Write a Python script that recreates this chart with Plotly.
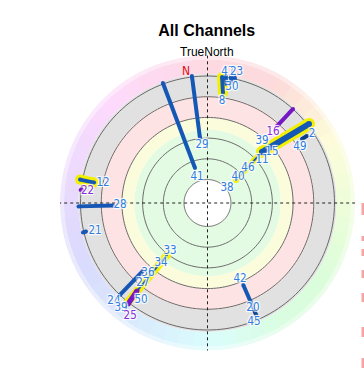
import colorsys
import plotly.graph_objects as go

# ---------------- data ----------------
# current satellite positions (label is drawn there)
sat_labels = ["41", "29", "8", "47", "23", "30", "16", "2", "49", "39", "15", "11", "46", "40", "38",
              "12", "22", "28", "21", "33", "34", "36", "27", "50", "24", "39", "25", "42", "20", "45"]
sat_state = ["normal", "normal", "selected", "normal", "normal", "normal", "warn", "normal", "normal",
             "normal", "normal", "normal", "normal", "normal", "normal",
             "normal", "warn", "normal", "normal", "normal", "normal", "normal", "normal", "normal",
             "normal", "normal", "warn", "normal", "normal", "normal"]
pos_az = [338.0, 354.6, 8.1, 8.9, 12.5, 11.9, 42.7, 56.6, 58.8, 41.3, 51.7, 51.7, 49.2, 49.6, 52.4,
          280.8, 275.7, 268.7, 256.0, 218.0, 217.8, 220.4, 218.9, 214.4, 223.7, 219.5, 214.4, 156.8, 156.6, 158.7]
pos_el = [86.7, 64.8, 32.4, 11.3, 9.8, 21.1, 37.0, 16.3, 28.7, 47.2, 47.5, 56.7, 68.3, 78.0, 89.2,
          29.9, 19.6, 43.6, 23.0, 62.9, 52.0, 40.4, 32.5, 21.8, 8.9, 8.5, 7.8, 47.1, 24.1, 14.1]

# recorded tracks: owning satellite, kind, start (az, el) -> end (az, el)
trk_sat = ["41", "29", "8", "47", "30", "23", "16", "2", "49", "40", "12", "22", "28", "21",
           "36", "33", "25", "42", "45"]
trk_kind = ["normal", "normal", "selected", "normal", "normal", "normal", "warn", "selected", "dark",
            "selected", "selected", "warn", "normal", "normal", "normal", "selected", "warn", "normal", "dark"]
trk_az0 = [339.6, 353.0, 6.6, 8.1, 10.5, 11.7, 42.3, 52.1, 56.0, 46.9, 280.4, 275.9, 268.5, 256.7,
           223.6, 218.8, 218.7, 156.4, 156.5]
trk_el0 = [14.3, 14.3, 15.1, 14.1, 13.4, 12.3, 14.9, 13.8, 20.1, 53.0, 13.1, 14.6, 13.5, 14.3,
           15.0, 15.0, 25.3, 42.2, 22.5]
trk_az1 = [340.3, 353.4, 8.0, 9.1, 11.1, 12.5, 42.1, 46.9, 55.9, 51.0, 280.2, 276.2, 268.5, 256.8,
           223.5, 217.9, 218.2, 156.4, 156.5]
trk_el1 = [80.1, 59.6, 26.5, 19.7, 18.4, 15.0, 31.9, 53.0, 24.3, 80.5, 23.5, 15.4, 38.6, 16.6,
           39.6, 59.3, 13.9, 24.8, 17.0]

north_marker = {"label": "N", "az": 350.7, "el": 10.8}
ring_elevations = [75, 60, 45, 30, 15]
zone_edges = [0, 13.5, 29.5, 45.0, 54.0, 90.0]

# ---------------- styling ----------------
BLUE = "#1557b5"
DARK = "#0d3f8c"
LBLUE = "#2f7de0"
PURPLE = "#7417c4"
LPURPLE = "#8a2bd8"
YELLOW = "#f2f000"
HALO = "1px 1px 1px white, -1px -1px 1px white, 1px -1px 1px white, -1px 1px 1px white"
LABEL_FONT = "DejaVu Sans Condensed, DejaVu Sans"
line_w = {"2": 6, "40": 2, "25": 5, "33": 2}
hl_w = {"2": 12, "40": 6, "33": 8}

fig = go.Figure()

# hue band (outer) as coloured segments
hue_stops = [(0, 345), (30, 360), (60, 415), (90, 445), (120, 475), (150, 495), (180, 540),
             (210, 570), (240, 595), (270, 620), (300, 645), (330, 675), (360, 705)]


def hue_at(a):
    for (a0, h0), (a1, h1) in zip(hue_stops[:-1], hue_stops[1:]):
        if a0 <= a <= a1:
            return (h0 + (h1 - h0) * (a - a0) / (a1 - a0)) % 360
    return 345


seg = 6
thetas = [t + seg / 2 for t in range(0, 360, seg)]
for (b0, b1, light) in [(zone_edges[0], 3.0, 0.955), (3.0, zone_edges[1], 0.925)]:
    cols = []
    for t in thetas:
        r, g, b = colorsys.hls_to_rgb(hue_at(t) / 360.0, light, 0.9)
        cols.append(f"rgb({int(r*255)},{int(g*255)},{int(b*255)})")
    fig.add_trace(go.Barpolar(theta=thetas, r=[b1 - b0] * len(thetas), base=[b0] * len(thetas),
                              width=[seg + 0.3] * len(thetas), marker=dict(color=cols, line=dict(width=0)),
                              hoverinfo="skip", showlegend=False))
zone_cols = ["#e1e1e1", "#fde3e3", "#fbfcdc", "#e2fbe2"]
for i, c in enumerate(zone_cols):
    fig.add_trace(go.Barpolar(theta=[180], r=[zone_edges[i + 2] - zone_edges[i + 1]], base=[zone_edges[i + 1]],
                              width=[360], marker=dict(color=c, line=dict(width=0)),
                              hoverinfo="skip", showlegend=False))

# rings
ring_theta = [i * 2 for i in range(181)]
for e in ring_elevations:
    fig.add_trace(go.Scatterpolar(theta=ring_theta, r=[e] * len(ring_theta), mode="lines",
                                  line=dict(color="#6a6a6a", width=1), hoverinfo="skip", showlegend=False))
fig.add_trace(go.Scatterpolar(theta=ring_theta, r=[90] * len(ring_theta), mode="lines", fill="toself",
                              fillcolor="white", line=dict(color="#6a6a6a", width=1), hoverinfo="skip",
                              showlegend=False))
# cross (dotted)
for a in (0, 90):
    fig.add_trace(go.Scatterpolar(theta=[a, a, a + 180], r=[0, 107, 0], mode="lines",
                                  line=dict(color="#222", width=1, dash="dot"), hoverinfo="skip",
                                  showlegend=False))

# highlight under-strokes
for i, k in enumerate(trk_kind):
    if k == "selected":
        w = hl_w.get(trk_sat[i], 10)
        fig.add_trace(go.Scatterpolar(theta=[trk_az0[i], trk_az1[i]], r=[trk_el0[i], trk_el1[i]],
                                      mode="lines+markers", line=dict(color=YELLOW, width=w),
                                      marker=dict(color=YELLOW, size=w), hoverinfo="skip", showlegend=False))
# tracks
for i, k in enumerate(trk_kind):
    col = PURPLE if k == "warn" else (DARK if k == "dark" else BLUE)
    w = line_w.get(trk_sat[i], 4)
    fig.add_trace(go.Scatterpolar(theta=[trk_az0[i], trk_az1[i]], r=[trk_el0[i], trk_el1[i]],
                                  mode="lines+markers", line=dict(color=col, width=w),
                                  marker=dict(color=col, size=w), hoverinfo="skip", showlegend=False))
# labels at current positions
for i, s in enumerate(sat_state):
    col = LPURPLE if s == "warn" else LBLUE
    fig.add_trace(go.Scatterpolar(theta=[pos_az[i]], r=[pos_el[i]], mode="text", text=[sat_labels[i]],
                                  textposition="middle center",
                                  textfont=dict(family=LABEL_FONT, size=11.5, color=col, shadow=HALO),
                                  hoverinfo="skip", showlegend=False))
fig.add_trace(go.Scatterpolar(theta=[north_marker["az"]], r=[north_marker["el"]], mode="text",
                              text=[north_marker["label"]],
                              textfont=dict(family=LABEL_FONT, size=12, color="#e01010"),
                              hoverinfo="skip", showlegend=False))

# clipped red items at the right edge
edge_marks = [(203, 215), (236, 241), (249, 256), (270, 278), (293, 302), (327, 337), (358, 368)]
shapes = [dict(type="rect", xref="paper", yref="paper", x0=361.5 / 364, x1=1.0,
               y0=1 - b / 370, y1=1 - t / 370, fillcolor="rgba(240,90,90,0.55)", line=dict(width=0))
          for t, b in edge_marks]

fig.update_layout(
    width=364, height=370, margin=dict(l=0, r=0, t=0, b=0),
    paper_bgcolor="white", plot_bgcolor="white",
    title=dict(text="<b>All Channels</b>", x=0.568, xanchor="center", y=0.918, yanchor="middle",
               font=dict(family="Liberation Sans", size=16, color="black")),
    polar=dict(
        domain=dict(x=[0.1643, 0.9758], y=[0.0522, 0.8505]),
        bgcolor="rgba(0,0,0,0)",
        hole=0,
        radialaxis=dict(range=[107, 0], visible=False, showgrid=False),
        angularaxis=dict(rotation=90, direction="clockwise", visible=False, showgrid=False),
        barmode="overlay",
    ),
    shapes=shapes,
    annotations=[dict(text="TrueNorth", x=0.568, y=0.86, xref="paper", yref="paper",
                      showarrow=False, font=dict(family="Liberation Sans", size=12, color="black"),
                      yanchor="middle")],
)
fig.write_html("out.html", config={"displayModeBar": False},
               post_script="document.body.style.margin='0';document.body.style.padding='0';")
